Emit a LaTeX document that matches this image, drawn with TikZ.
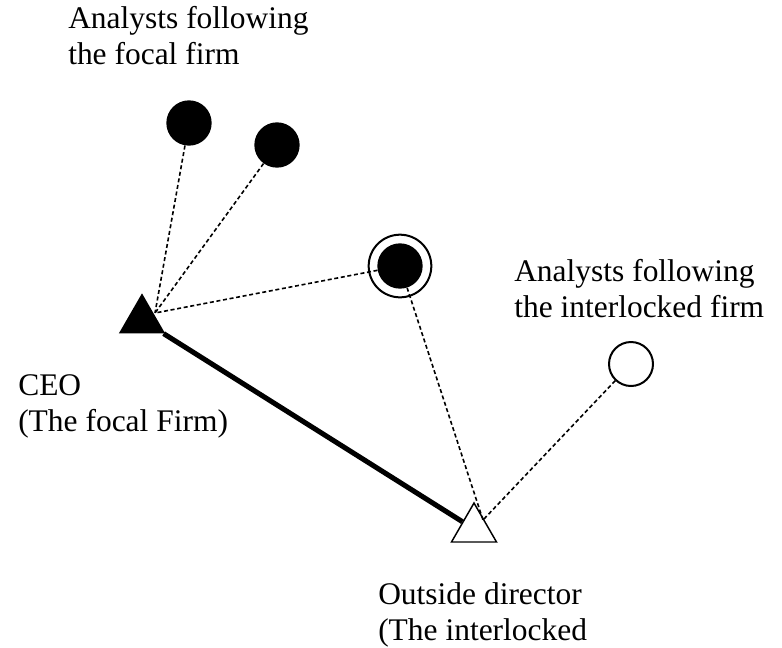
\documentclass[tikz,border=0pt]{standalone}
\usepackage{fontspec}
\setmainfont{Liberation Serif}
\usetikzlibrary{shapes.geometric}
\tikzset{
  analyst/.style  = {circle, fill=black, inner sep=0pt, minimum size=34pt},
  other/.style    = {circle, draw, line width=1.5pt, fill=white, inner sep=0pt, minimum size=33pt},
  ring/.style     = {circle, draw, line width=1.5pt, inner sep=0pt, minimum size=47pt},
  ceotri/.style   = {regular polygon, regular polygon sides=3, fill=black, inner sep=0pt, minimum size=40pt},
  dirtri/.style   = {regular polygon, regular polygon sides=3, draw, line width=1.1pt, fill=white,
                     inner sep=0pt, minimum size=39pt},
  tie/.style      = {line width=1.2pt, dash pattern=on 3pt off 2pt},
  board/.style    = {line width=3.8pt},
  lbl/.style      = {font=\fontsize{23.6}{26.4}\selectfont, align=left, inner sep=0pt, anchor=base west},
}
\begin{document}
\begin{tikzpicture}[x=0.75pt,y=-0.75pt]
  \useasboundingbox (0,0) rectangle (782,647);
  % the two executives
  \node[ceotri] (ceo) at (142,320) {};
  \node[dirtri] (dir) at (474,529) {};
  \coordinate (ceoend) at (155,313);
  \coordinate (dirend) at (483,520);
  % analysts
  \node[analyst] (focA) at (189,123) {};
  \node[analyst] (focB) at (277,145) {};
  \node[ring]    (bothring) at (400,266) {};
  \node[analyst] (both) at (400,266) {};
  \node[other]   (inter) at (631,364) {};
  % ties
  \draw[board] (ceo) -- (dir);
  \draw[tie] (focA) -- (ceoend);
  \draw[tie] (focB) -- (ceoend);
  \draw[tie] (both) -- (ceoend);
  \draw[tie] (both) -- (dirend);
  \draw[tie] (inter) -- (dirend);
  % labels (anchored on the last line)
  \node[lbl] (focLbl) at (68,64) {Analysts following\\the focal firm};
  \node[lbl] (intLbl) at (514,317) {Analysts following\\the interlocked firm};
  \node[lbl] (ceoLbl) at (18,431) {CEO\\(The focal Firm)};
  \node[lbl] (dirLbl) at (378,640) {Outside director\\(The interlocked};
\end{tikzpicture}
\end{document}
